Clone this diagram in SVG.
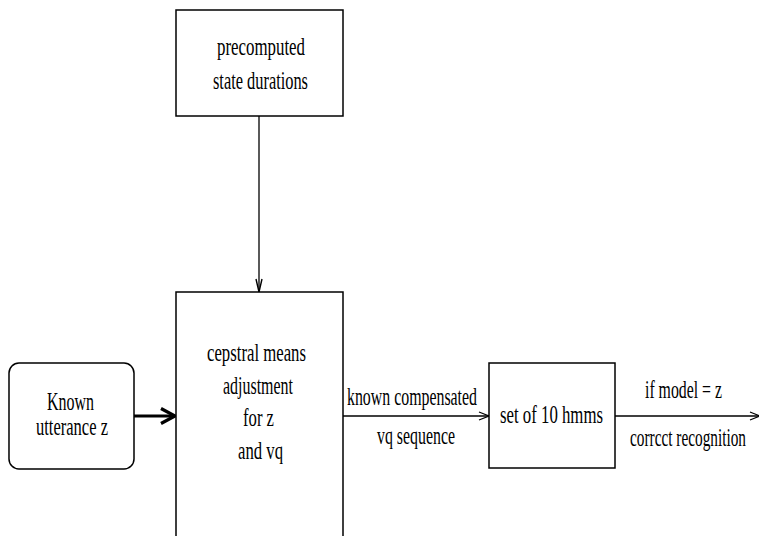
<svg xmlns="http://www.w3.org/2000/svg" width="759" height="536" viewBox="0 0 759 536">
  <style>
    .box { fill: #ffffff; stroke: #000000; stroke-width: 1.5; }
    .lbl { font-family: "Liberation Serif", "DejaVu Serif", serif; font-size: 26px; fill: #000000; text-anchor: middle; }
    .edge { fill: none; stroke: #000000; stroke-width: 1.3; }
    .edge-bold { fill: none; stroke: #000000; stroke-width: 3.2; }
  </style>
  <defs>
    <marker id="vhead" markerUnits="userSpaceOnUse" markerWidth="14" markerHeight="12" refX="11" refY="6" orient="auto" overflow="visible">
      <path d="M1,2 L11,6 L1,10" fill="none" stroke="#000" stroke-width="1.3"/>
    </marker>
    <marker id="vhead-narrow" markerUnits="userSpaceOnUse" markerWidth="14" markerHeight="8" refX="13" refY="4" orient="auto" overflow="visible">
      <path d="M0,1 L13,4 L0,7" fill="none" stroke="#000" stroke-width="1.4"/>
    </marker>
    <marker id="vhead-bold" markerUnits="userSpaceOnUse" markerWidth="20" markerHeight="20" refX="16" refY="10" orient="auto" overflow="visible">
      <path d="M2,2.5 L16,10 L2,17.5" fill="none" stroke="#000" stroke-width="3.2"/>
    </marker>
  </defs>

  <g id="connectors">
    <line class="edge" x1="259" y1="116" x2="259" y2="292" marker-end="url(#vhead-narrow)"/>
    <line class="edge-bold" x1="134" y1="416" x2="175" y2="416" marker-end="url(#vhead-bold)"/>
    <line class="edge" x1="343" y1="416" x2="489" y2="416" marker-end="url(#vhead)"/>
    <line class="edge" x1="615" y1="416" x2="760" y2="416" marker-end="url(#vhead)"/>
    <text class="lbl" x="412" y="405" textLength="130" lengthAdjust="spacingAndGlyphs">known compensated</text>
    <text class="lbl" x="416" y="444" textLength="78" lengthAdjust="spacingAndGlyphs">vq sequence</text>
    <text class="lbl" x="683.5" y="398" textLength="77" lengthAdjust="spacingAndGlyphs">if model = z</text>
    <text class="lbl" x="688" y="446" textLength="116" lengthAdjust="spacingAndGlyphs">corrcct recognition</text>
  </g>

  <g id="node-durations">
    <rect class="box" x="176" y="10" width="167" height="106"/>
    <text class="lbl" x="261" y="55" textLength="88" lengthAdjust="spacingAndGlyphs">precomputed</text>
    <text class="lbl" x="260.5" y="89" textLength="95" lengthAdjust="spacingAndGlyphs">state durations</text>
  </g>

  <g id="node-adjustment">
    <path class="box" d="M176,540 V292 H343 V540"/>
    <text class="lbl" x="256.5" y="361" textLength="99" lengthAdjust="spacingAndGlyphs">cepstral means</text>
    <text class="lbl" x="258" y="394" textLength="70" lengthAdjust="spacingAndGlyphs">adjustment</text>
    <text class="lbl" x="258.5" y="426" textLength="31" lengthAdjust="spacingAndGlyphs">for z</text>
    <text class="lbl" x="260.5" y="459" textLength="45" lengthAdjust="spacingAndGlyphs">and vq</text>
  </g>

  <g id="node-utterance">
    <rect class="box" x="9" y="363" width="125" height="106" rx="10" ry="10"/>
    <text class="lbl" x="70.5" y="410" textLength="47" lengthAdjust="spacingAndGlyphs">Known</text>
    <text class="lbl" x="72" y="435" textLength="72" lengthAdjust="spacingAndGlyphs">utterance z</text>
  </g>

  <g id="node-hmms">
    <rect class="box" x="489" y="363" width="126" height="105"/>
    <text class="lbl" x="551.5" y="423" textLength="103" lengthAdjust="spacingAndGlyphs">set of 10 hmms</text>
  </g>
</svg>
